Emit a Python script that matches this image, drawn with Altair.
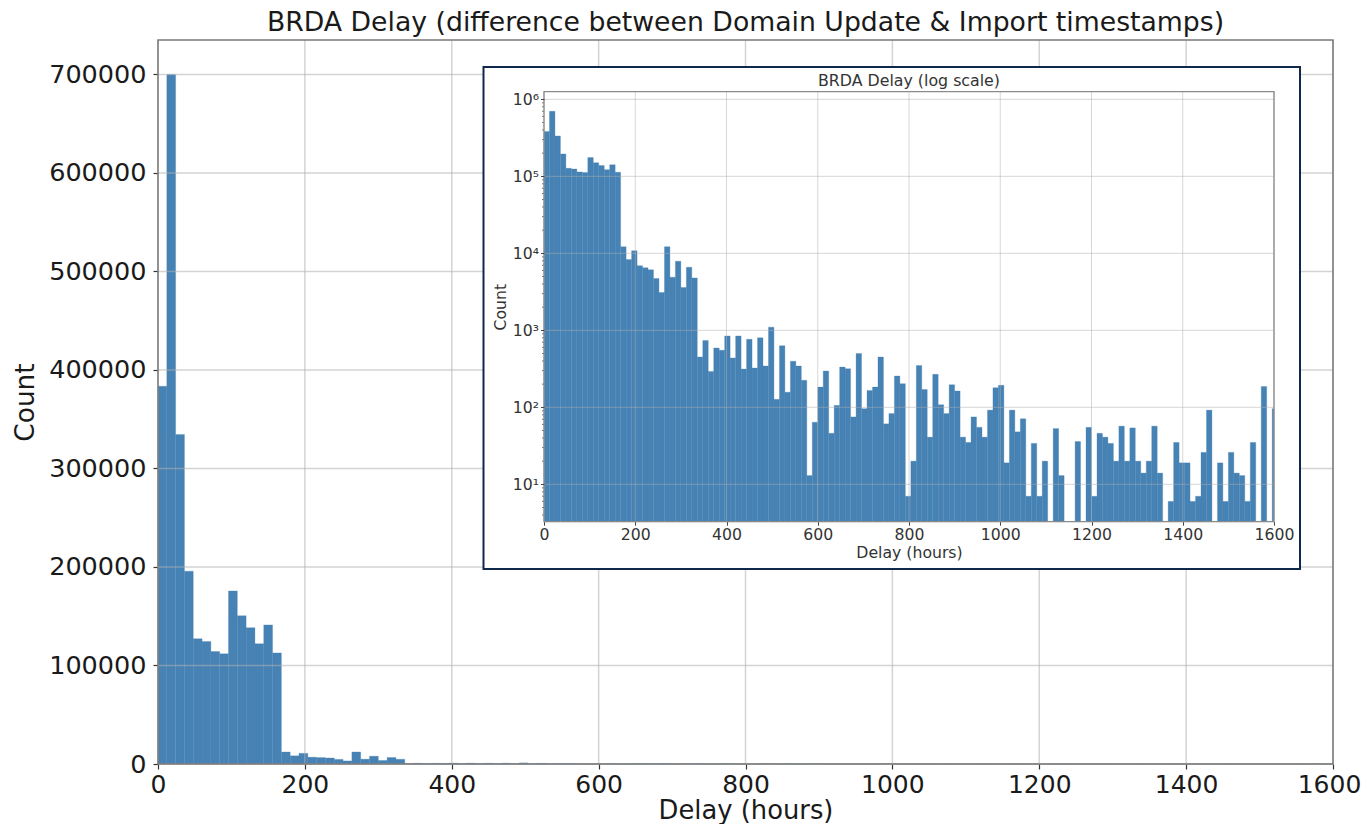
import altair as alt
import pandas as pd

FONT = "DejaVu Sans"
BAR = "#4682b4"

# histogram: 12-hour bins starting at 0 h
bin_width = 12
x_max = 1600
counts = [
    383500, 700000, 334600, 195700, 127200, 124400, 114200, 111800, 175700, 150500,
    138400, 122100, 141200, 112800, 12200, 8300, 10800, 6900, 6500, 6100,
    4700, 3100, 12200, 4900, 7900, 3600, 6600, 4800, 450, 740,
    293, 590, 550, 845, 437, 845, 314, 764, 324, 800,
    344, 1100, 127, 632, 157, 396, 344, 224, 13, 64,
    183, 296, 46, 106, 333, 318, 75, 500, 96, 166,
    183, 450, 61, 83, 255, 203, 7, 20, 350, 170,
    41, 268, 108, 83, 197, 163, 41, 35, 75, 55,
    41, 92, 180, 193, 19, 92, 48, 71, 7, 34,
    7, 20, 0, 53, 13, 0, 0, 36, 0, 55,
    7, 46, 41, 34, 20, 57, 20, 54, 20, 14,
    20, 57, 14, 0, 6, 35, 19, 19, 6, 7,
    26, 92, 0, 19, 6, 26, 14, 13, 6, 35,
    0, 187, 0, 96,
]

x_ticks = [0, 200, 400, 600, 800, 1000, 1200, 1400, 1600]
y_ticks_main = [0, 100000, 200000, 300000, 400000, 500000, 600000, 700000]
log_ticks = [10, 100, 1000, 10000, 100000, 1000000]
main_ymax = 735000
log_ymin = 3.27
log_ymax = 1.257e6

main_title = "BRDA Delay (difference between Domain Update & Import timestamps)"
inset_title_text = "BRDA Delay (log scale)"

starts = [i * bin_width for i in range(len(counts))]
ends = [min(s + bin_width, x_max) for s in starts]
df = pd.DataFrame({"start": starts, "end": ends, "count": counts})
df_log = df[df["count"] > 0]

minor_ticks = [k * 10 ** e for e in range(0, 6) for k in range(2, 10)
               if log_ymin <= k * 10 ** e <= log_ymax]

gx = pd.DataFrame({"gx": x_ticks})
gy = pd.DataFrame({"gy": y_ticks_main})
lgy = pd.DataFrame({"gy": log_ticks})
mn = pd.DataFrame({"gy": minor_ticks})
one = pd.DataFrame({"a": [0]})

W, H = 1175, 724
XLBL = 25
YLBL = 25.5
TTL = 25.8
IN = 15.7

# ---------------- main chart ----------------
def xs_main():
    return alt.Scale(domain=[0, x_max], range=[0, W], nice=False)

def ys_main():
    return alt.Scale(domain=[0, main_ymax], range=[H, 0], nice=False, zero=True)

main_bars = alt.Chart(df).mark_bar(color=BAR, stroke=BAR, strokeWidth=0.3).encode(
    x=alt.X("start:Q", scale=xs_main(), axis=alt.Axis(
        orient="bottom", values=x_ticks, format="d", title="Delay (hours)", grid=False,
        domain=False, tickSize=5, tickColor="#333", tickWidth=1.2, labelPadding=3.5,
        labelFont=FONT, labelFontSize=XLBL, labelColor="#1a1a1a",
        labelOffset={"condition": {"test": "datum.value == 1600", "value": -4}, "value": 0},
        titleFont=FONT, titleFontSize=TTL, titleFontWeight="normal", titleColor="#1a1a1a",
        titleY=54, titleBaseline="alphabetic", labelFlush=False)),
    x2="end:Q",
    y=alt.Y("count:Q", scale=ys_main(), axis=alt.Axis(
        orient="left", values=y_ticks_main, format="d", title="Count", grid=False,
        domain=False, tickSize=5, tickColor="#333", tickWidth=1.2, labelPadding=7,
        labelFont=FONT, labelFontSize=YLBL, labelColor="#1a1a1a",
        titleFont=FONT, titleFontSize=26.4, titleFontWeight="normal", titleColor="#1a1a1a",
        titleX=-124.7, titleBaseline="alphabetic")),
    y2=alt.Y2(datum=0),
)

main_vgrid = alt.Chart(gx).mark_rule(color="#b0b0b0", opacity=0.55, strokeWidth=1.5).encode(
    x=alt.X("gx:Q", scale=xs_main(), axis=None),
    y=alt.Y(datum=0, scale=ys_main(), axis=None), y2=alt.Y2(datum=main_ymax))
main_hgrid = alt.Chart(gy).mark_rule(color="#b0b0b0", opacity=0.55, strokeWidth=1.5).encode(
    y=alt.Y("gy:Q", scale=ys_main(), axis=None),
    x=alt.X(datum=0, scale=xs_main(), axis=None), x2=alt.X2(datum=x_max))
main_frame = alt.Chart(one).mark_rect(fillOpacity=0, stroke="#7a7a7a", strokeWidth=1.5).encode(
    x=alt.X(datum=0, scale=xs_main(), axis=None), x2=alt.X2(datum=x_max),
    y=alt.Y(datum=0, scale=ys_main(), axis=None), y2=alt.Y2(datum=main_ymax))
main_title_mark = alt.Chart(one).mark_text(
    text=main_title, font=FONT, fontSize=26.7, color="#1a1a1a",
    baseline="alphabetic", align="center", dy=-9).encode(
    x=alt.X(datum=x_max / 2, scale=xs_main(), axis=None),
    y=alt.Y(datum=main_ymax, scale=ys_main(), axis=None))

# ---------------- inset (log scale) ----------------
def xs_in():
    return alt.Scale(domain=[0, x_max], range=[386, 1116], nice=False)

def ys_in():
    return alt.Scale(type="log", domain=[log_ymin, log_ymax], range=[481.7, 51.7], nice=False)

inset_box = alt.Chart(one).mark_rect(fill="white", stroke="#10294b", strokeWidth=2).encode(
    x=alt.value(325.5), x2=alt.value(1142), y=alt.value(27), y2=alt.value(529))

sup = "['\u2070','\u00b9','\u00b2','\u00b3','\u2074','\u2075','\u2076']"
inset_bars = alt.Chart(df_log).mark_bar(color=BAR, stroke=BAR, strokeWidth=0.3).encode(
    x=alt.X("start:Q", scale=xs_in(), axis=alt.Axis(
        orient="bottom", offset=481.7 - H, values=x_ticks, format="d", title="Delay (hours)",
        grid=False, domain=False, zindex=1, tickSize=3.5, tickColor="#444",
        labelPadding=2, labelFont=FONT, labelFontSize=IN, labelColor="#333",
        titleFont=FONT, titleFontSize=IN, titleFontWeight="normal", titleColor="#333",
        titleY=35.6, titleBaseline="alphabetic", labelFlush=False)),
    x2="end:Q",
    y=alt.Y("count:Q", scale=ys_in(), axis=alt.Axis(
        orient="left", offset=-386, values=log_ticks, title="Count",
        labelExpr="'10' + " + sup + "[round(log(datum.value) / LN10)]",
        grid=False, domain=False, zindex=1, tickSize=3.5, tickColor="#444",
        labelPadding=2, labelFont=FONT, labelFontSize=IN, labelColor="#333",
        titleFont=FONT, titleFontSize=IN, titleFontWeight="normal", titleColor="#333",
        titleX=-39, titleBaseline="alphabetic")),
    y2=alt.Y2(datum=log_ymin),
)

inset_vgrid = alt.Chart(gx).mark_rule(color="#b0b0b0", opacity=0.5, strokeWidth=1).encode(
    x=alt.X("gx:Q", scale=xs_in(), axis=None),
    y=alt.Y(datum=log_ymin, scale=ys_in(), axis=None), y2=alt.Y2(datum=log_ymax))
inset_hgrid = alt.Chart(lgy).mark_rule(color="#b0b0b0", opacity=0.5, strokeWidth=1).encode(
    y=alt.Y("gy:Q", scale=ys_in(), axis=None),
    x=alt.X(datum=0, scale=xs_in(), axis=None), x2=alt.X2(datum=x_max))
inset_minor = alt.Chart(mn).mark_rule(color="#555", strokeWidth=0.8, xOffset=-2).encode(
    y=alt.Y("gy:Q", scale=ys_in(), axis=None),
    x=alt.X(datum=0, scale=xs_in(), axis=None), x2=alt.X2(datum=0))
inset_frame = alt.Chart(one).mark_rect(fillOpacity=0, stroke="#8a8a8a", strokeWidth=1.3).encode(
    x=alt.X(datum=0, scale=xs_in(), axis=None), x2=alt.X2(datum=x_max),
    y=alt.Y(datum=log_ymin, scale=ys_in(), axis=None), y2=alt.Y2(datum=log_ymax))
inset_title = alt.Chart(one).mark_text(
    text=inset_title_text, font=FONT, fontSize=15.8, color="#333",
    baseline="alphabetic", align="center", dy=-5.5).encode(
    x=alt.X(datum=x_max / 2, scale=xs_in(), axis=None),
    y=alt.Y(datum=log_ymax, scale=ys_in(), axis=None))

chart = alt.layer(
    main_bars, main_vgrid, main_hgrid, main_frame, main_title_mark,
    inset_box, inset_bars, inset_vgrid, inset_hgrid, inset_minor, inset_frame, inset_title,
).resolve_scale(
    x="independent", y="independent"
).properties(
    width=W, height=H,
    autosize=alt.AutoSizeParams(type="none"),
    padding={"left": 150, "top": 32, "right": 28, "bottom": 60},
).configure_view(stroke=None)

chart.save("out.html", embed_options={"renderer": "svg", "actions": False})
